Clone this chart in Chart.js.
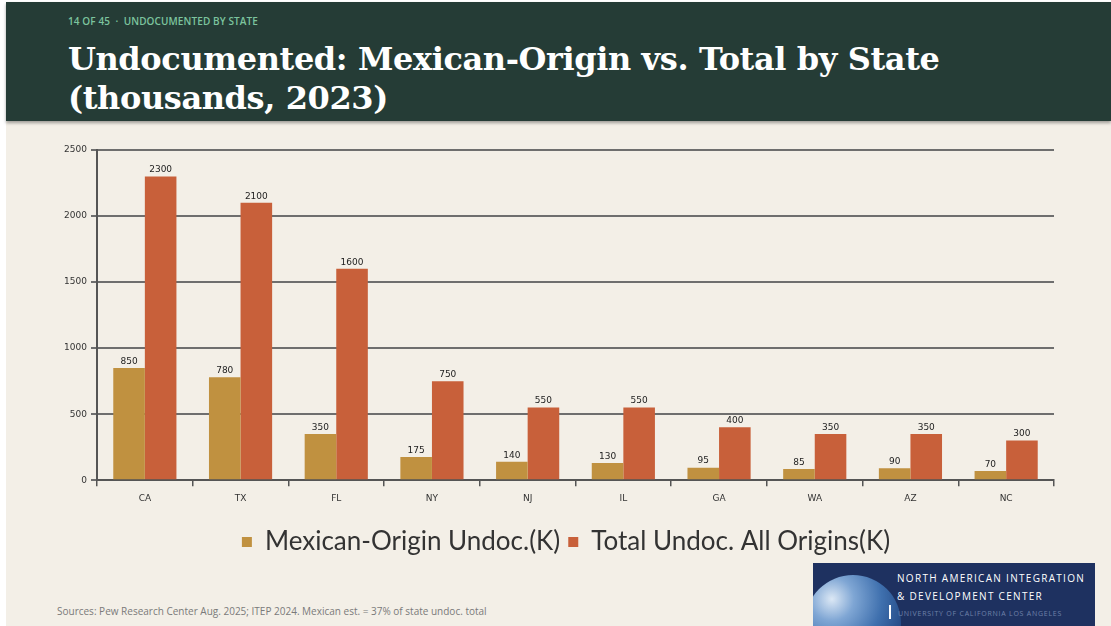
<!DOCTYPE html>
<html>
<head>
<meta charset="utf-8">
<script src="https://cdn.jsdelivr.net/npm/chart.js@4.4.1/dist/chart.umd.min.js"></script>
<style>
  html, body { margin: 0; padding: 0; }
  body { width: 1111px; height: 626px; background: #fff; position: relative; overflow: hidden; }
  .slide { position: absolute; left: 6px; top: 2px; right: 0; bottom: 0; background: #f3efe7; }
  .header { position: absolute; left: 6px; top: 2px; right: 0; height: 119px; background: #253c36;
            box-shadow: 0 2px 3px rgba(0,0,0,0.35); }
  .kicker { position: absolute; left: 62px; top: 12px; font: 600 10px "Open Sans", sans-serif;
            color: #7cc49e; letter-spacing: 0.1px; }
  .title { position: absolute; left: 62px; top: 38px; font: bold 32px "DejaVu Serif", serif;
           color: #fff; line-height: 39px; letter-spacing: -0.4px; }
  #wrap { position: absolute; left: 0; top: 138px; width: 1111px; height: 427px; }
  .source { position: absolute; left: 57px; top: 604px; font: 10px "Open Sans", sans-serif; color: #7a7a7a; }
  .logo { position: absolute; left: 813px; top: 563px; width: 282px; height: 63px; background: #1e3160; overflow: hidden; }
  .globe { position: absolute; left: -8px; top: 12px; width: 96px; height: 96px; border-radius: 50%;
           background: radial-gradient(circle at 28% 25%, #dce8f5 0%, #7fa6d4 22%, #3f70ae 50%, #244a86 75%, #1e3160 100%); }
  .logo .l1, .logo .l2 { position: absolute; left: 84px; font: 10px "Open Sans", sans-serif; color: #fff; letter-spacing: 1.3px; }
  .logo .l1 { top: 8px; }
  .logo .l2 { top: 26px; }
  .logo .l3 { position: absolute; left: 85px; top: 46px; font: 7px "Open Sans", sans-serif; color: #6f82aa; letter-spacing: 0.75px; }
  .logo .bar { position: absolute; left: 76px; top: 42px; width: 2px; height: 14px; background: #fff; }
</style>
</head>
<body>
<div class="slide"></div>
<div class="header">
  <div class="kicker">14 OF 45 &nbsp;·&nbsp; UNDOCUMENTED BY STATE</div>
  <div class="title">Undocumented: Mexican-Origin vs. Total by State<br>(thousands, 2023)</div>
</div>
<div id="wrap"><canvas id="stateChart"></canvas></div>
<div class="source">Sources: Pew Research Center Aug. 2025; ITEP 2024. Mexican est. = 37% of state undoc. total</div>
<div class="logo">
  <div class="globe"></div>
  <div class="bar"></div>
  <div class="l1">NORTH AMERICAN INTEGRATION</div>
  <div class="l2">&amp; DEVELOPMENT CENTER</div>
  <div class="l3">UNIVERSITY OF CALIFORNIA LOS ANGELES</div>
</div>
<script>
// states and undocumented population (thousands)
const states = ["CA", "TX", "FL", "NY", "NJ", "IL", "GA", "WA", "AZ", "NC"];
const mexicanOrigin = [850, 780, 350, 175, 140, 130, 95, 85, 90, 70];
const totalUndoc = [2300, 2100, 1600, 750, 550, 550, 400, 350, 350, 300];
const yTicks = [0, 500, 1000, 1500, 2000, 2500];

// writes each bar's value just above it
const valueLabels = {
  id: "valueLabels",
  afterDatasetsDraw(chart) {
    const ctx = chart.ctx;
    ctx.save();
    ctx.font = "9px 'DejaVu Sans', sans-serif";
    ctx.fillStyle = "#222";
    ctx.textAlign = "center";
    ctx.textBaseline = "bottom";
    chart.data.datasets.forEach((ds, i) => {
      chart.getDatasetMeta(i).data.forEach((bar, j) => {
        ctx.fillText(ds.data[j], bar.x, bar.y - 2);
      });
    });
    ctx.restore();
  }
};

// legend box starts just left of the y axis so the items sit under the bars
const legendUnderPlot = {
  id: "legendUnderPlot",
  afterLayout(chart) {
    chart.legend.left = chart.chartArea.left - 19;
  }
};

const ctx = document.getElementById("stateChart").getContext("2d");
new Chart(ctx, {
  type: "bar",
  data: {
    labels: states,
    datasets: [
      {
        label: "Mexican-Origin Undoc.(K)",
        data: mexicanOrigin,
        backgroundColor: "#c09140",
        borderWidth: 0,
      },
      {
        label: "Total Undoc. All Origins(K)",
        data: totalUndoc,
        backgroundColor: "#c8603a",
        borderWidth: 0,
      },
    ],
  },
  options: {
    responsive: true,
    maintainAspectRatio: false,
    animation: false,
    layout: { padding: { left: 0, right: 57, top: 12, bottom: 0 } },
    datasets: { bar: { categoryPercentage: 0.66, barPercentage: 1.0 } },
    plugins: {
      tooltip: { enabled: false },
      legend: {
        position: "bottom",
        labels: {
          boxWidth: 10,
          boxHeight: 10,
          padding: 8,
          color: "#333",
          font: { family: "Lato", size: 26 },
        },
      },
    },
    scales: {
      x: {
        afterFit(scale) { scale.height += 10; },
        grid: { display: true, drawOnChartArea: false, color: "#555", tickLength: 6, lineWidth: 1.5 },
        border: { color: "#555", width: 2 },
        ticks: { color: "#333", font: { family: "DejaVu Sans", size: 9 }, padding: 7 },
      },
      y: {
        min: 0,
        max: 2500,
        afterFit(scale) { scale.width = 97; },
        afterBuildTicks(scale) { scale.ticks = yTicks.map((v) => ({ value: v })); },
        grid: { color: "#6e6e6e", lineWidth: 2, tickLength: 6 },
        border: { color: "#555", width: 2 },
        ticks: {
          color: "#333",
          font: { family: "DejaVu Sans", size: 9 },
          padding: 4,
          callback: (v) => String(v),
        },
      },
    },
  },
  plugins: [valueLabels, legendUnderPlot],
});
</script>
</body>
</html>
